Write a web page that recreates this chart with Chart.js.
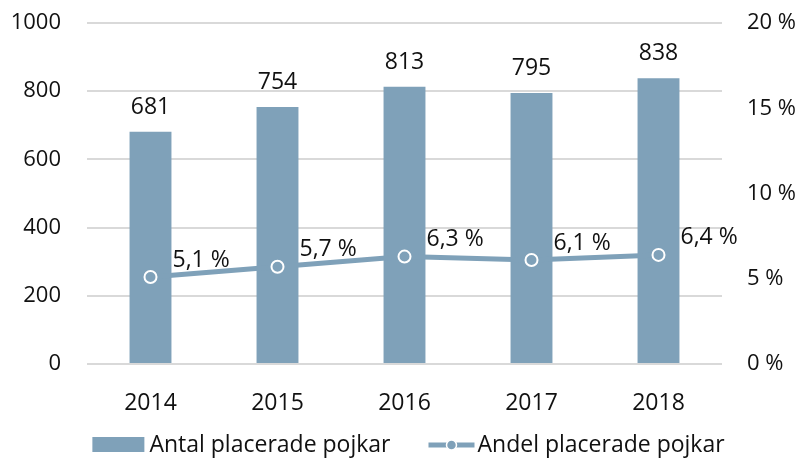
<!DOCTYPE html>
<html>
<head>
<meta charset="utf-8">
<script src="https://cdn.jsdelivr.net/npm/chart.js@4"></script>
<style>
  html, body { margin: 0; padding: 0; background: #fff; }
  #wrap { width: 801px; height: 461px; }
</style>
</head>
<body>
<div id="wrap"><canvas id="myChart" width="801" height="461"></canvas></div>
<script>
const years = ['2014', '2015', '2016', '2017', '2018'];
const antal = [681, 754, 813, 795, 838];
const andel = [5.1, 5.7, 6.3, 6.1, 6.4];
const leftTicks = [0, 200, 400, 600, 800, 1000];
const rightTicks = [0, 5, 10, 15, 20];
const seriesNames = ['Antal placerade pojkar', 'Andel placerade pojkar'];

const barColor = 'rgb(127,161,185)';
const fontFam = '"Open Sans", sans-serif';
const textColor = '#111';

const pct = v => String(v).replace('.', ',') + ' %';

// value labels over bars and next to the points
const labelPlugin = {
    id: 'valueLabels',
    afterDatasetsDraw(chart) {
        const ctx = chart.ctx;
        ctx.save();
        ctx.font = '23px ' + fontFam;
        ctx.fillStyle = textColor;
        chart.getDatasetMeta(0).data.forEach((bar, i) => {
            ctx.textAlign = 'center';
            ctx.textBaseline = 'alphabetic';
            ctx.fillText(antal[i], bar.x, bar.y - 18);
        });
        chart.getDatasetMeta(1).data.forEach((pt, i) => {
            ctx.textAlign = 'left';
            ctx.textBaseline = 'middle';
            ctx.fillText(pct(andel[i]), pt.x + 22, pt.y - 17);
        });
        ctx.restore();
    }
};

// legend drawn by hand, Excel style
const legendPlugin = {
    id: 'xlLegend',
    afterDraw(chart) {
        const ctx = chart.ctx;
        const area = chart.chartArea;
        ctx.save();
        ctx.font = '23px ' + fontFam;
        ctx.fillStyle = textColor;
        ctx.textBaseline = 'middle';
        ctx.textAlign = 'left';
        const w1 = ctx.measureText(seriesNames[0]).width;
        const w2 = ctx.measureText(seriesNames[1]).width;
        const total = 52 + 5 + w1 + 38 + 46 + 3 + w2;
        let x = (area.left + area.right) / 2 + 4 - total / 2;
        const y = 445;
        ctx.fillStyle = barColor;
        ctx.fillRect(x, y - 8, 52, 15);
        x += 57;
        ctx.fillStyle = textColor;
        ctx.fillText(seriesNames[0], x, y);
        x += w1 + 38;
        ctx.strokeStyle = barColor;
        ctx.lineWidth = 5;
        ctx.beginPath(); ctx.moveTo(x, y); ctx.lineTo(x + 46, y); ctx.stroke();
        ctx.beginPath(); ctx.arc(x + 23, y, 5, 0, Math.PI * 2);
        ctx.fillStyle = barColor; ctx.fill();
        ctx.lineWidth = 1.5; ctx.strokeStyle = '#fff'; ctx.stroke();
        x += 49;
        ctx.fillStyle = textColor;
        ctx.fillText(seriesNames[1], x, y);
        ctx.restore();
    }
};

const noPad = s => { s.paddingTop = 0; s.paddingBottom = 0; };

const data = {
    labels: years,
    datasets: [{
        type: 'bar',
        label: seriesNames[0],
        data: antal,
        backgroundColor: barColor,
        yAxisID: 'y',
        order: 2,
        categoryPercentage: 1,
        barPercentage: 0.33
    }, {
        type: 'line',
        label: seriesNames[1],
        data: andel,
        borderColor: barColor,
        borderWidth: 5,
        pointRadius: 6,
        pointBackgroundColor: barColor,
        pointBorderColor: '#fff',
        pointBorderWidth: 2,
        yAxisID: 'y1',
        order: 1
    }]
};

const config = {
    data: data,
    plugins: [labelPlugin, legendPlugin],
    options: {
        responsive: false,
        animation: false,
        layout: { padding: { top: 23, bottom: 0, left: 0, right: 0 } },
        scales: {
            x: {
                grid: { display: false },
                border: { display: false },
                ticks: { color: textColor, font: { family: fontFam, size: 23 }, padding: 18 },
                afterFit: s => { s.height = 97; }
            },
            y: {
                position: 'left',
                min: 0, max: 1000,
                afterBuildTicks: s => { s.ticks = leftTicks.map(v => ({ value: v })); },
                grid: { color: '#d9d9d9', lineWidth: 2, drawTicks: false },
                border: { display: false },
                ticks: { color: textColor, font: { family: fontFam, size: 22 }, padding: 26, callback: v => String(v) },
                afterFit: s => { s.width = 87; noPad(s); }
            },
            y1: {
                position: 'right',
                min: 0, max: 20,
                afterBuildTicks: s => { s.ticks = rightTicks.map(v => ({ value: v })); },
                grid: { drawOnChartArea: false, drawTicks: false },
                border: { display: false },
                ticks: { color: textColor, font: { family: fontFam, size: 22 }, padding: 25, callback: v => v + ' %' },
                afterFit: s => { s.width = 79; noPad(s); }
            }
        },
        plugins: {
            tooltip: { enabled: false },
            legend: { display: false }
        }
    }
};

var ctx = document.getElementById('myChart');
var newmychart = new Chart(ctx, config);
</script>
</body>
</html>
